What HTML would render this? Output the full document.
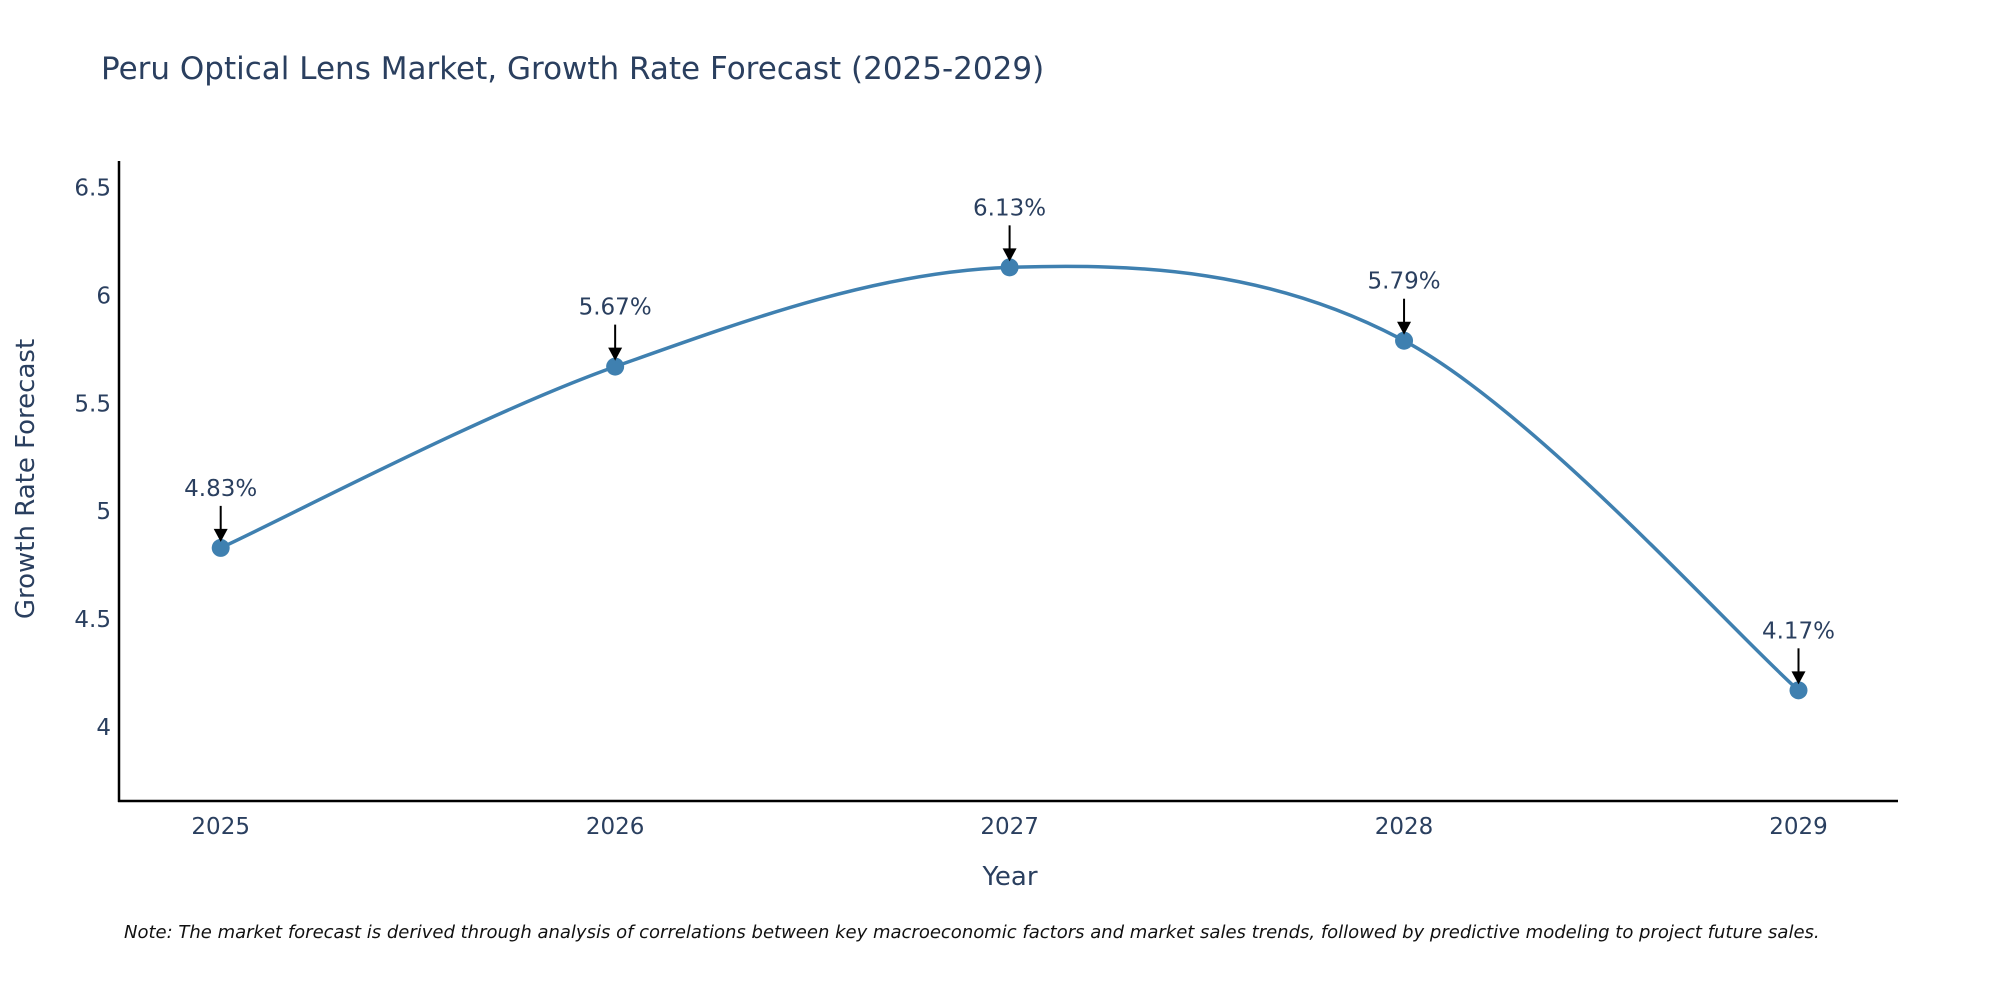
<!DOCTYPE html>
<html><head><meta charset="utf-8"><style>
html,body{margin:0;padding:0;background:#fff;}
svg{display:block;font-family:"DejaVu Sans","Liberation Sans",sans-serif;}
</style></head><body>
<svg id="chart" width="2000" height="1000" viewBox="0 0 2000 1000">
<text x="101" y="79" font-size="31" fill="#2a3f5f">Peru Optical Lens Market, Growth Rate Forecast (2025-2029)</text>
<g id="axes"></g>
<g id="series"></g>
<g id="annots"></g>
<text x="1010" y="885" font-size="26" fill="#2a3f5f" text-anchor="middle">Year</text>
<text transform="translate(34,479) rotate(-90)" font-size="26" fill="#2a3f5f" text-anchor="middle">Growth Rate Forecast</text>
<text x="124" y="938" font-size="18" font-style="italic" fill="#111">Note: The market forecast is derived through analysis of correlations between key macroeconomic factors and market sales trends, followed by predictive modeling to project future sales.</text>
</svg>
<script>
const years = [2025, 2026, 2027, 2028, 2029];
const growth = [4.83, 5.67, 6.13, 5.79, 4.17];
const yTicks = [4, 4.5, 5, 5.5, 6, 6.5];
const yTickLabels = ["4", "4.5", "5", "5.5", "6", "6.5"];

const NS = "http://www.w3.org/2000/svg";
function xs(v){ return 220.7 + (v - 2025) * 394.45; }
function ys(v){ return 727 - (v - 4) * 215.8; }
function mk(tag, attrs, parent){ const e = document.createElementNS(NS, tag); for (const k in attrs) e.setAttribute(k, attrs[k]); parent.appendChild(e); return e; }

const axes = document.getElementById('axes');
const yl = mk('line', {x1:119, y1:161, x2:119, y2:802, stroke:'#000', 'stroke-width':2.5}, axes);


const xl = mk('line', {x1:118, y1:801, x2:1898, y2:801, stroke:'#000', 'stroke-width':2.5}, axes);


yTicks.forEach((t, i) => {
  const tx = mk('text', {x:111, y:ys(t) + 8, 'font-size':23, fill:'#2a3f5f', 'text-anchor':'end'}, axes);
  tx.textContent = yTickLabels[i];
  
  
});
years.forEach(yr => {
  const tx = mk('text', {x:xs(yr), y:834, 'font-size':23, fill:'#2a3f5f', 'text-anchor':'middle'}, axes);
  tx.textContent = String(yr);
  
  
});

const pts = years.map((y, i) => [xs(y), ys(growth[i])]);
let d = `M${pts[0][0]},${pts[0][1]}`;
for (let i = 0; i < pts.length - 1; i++) {
  const p0 = pts[Math.max(0, i - 1)], p1 = pts[i], p2 = pts[i + 1], p3 = pts[Math.min(pts.length - 1, i + 2)];
  const t = 1/6;
  const c1 = [p1[0] + (p2[0] - p0[0]) * t, p1[1] + (p2[1] - p0[1]) * t];
  const c2 = [p2[0] - (p3[0] - p1[0]) * t, p2[1] - (p3[1] - p1[1]) * t];
  d += ` C${c1[0]},${c1[1]} ${c2[0]},${c2[1]} ${p2[0]},${p2[1]}`;
}
const series = document.getElementById('series');
const line = mk('path', {d:d, fill:'none', stroke:'#3f80b0', 'stroke-width':3.5}, series);


pts.forEach(p => {
  const c = mk('circle', {cx:p[0], cy:p[1], r:9, fill:'#3f80b0'}, series);
  
  
});

const an = document.getElementById('annots');
pts.forEach((p, i) => {
  const l = mk('line', {x1:p[0], y1:p[1] - 42, x2:p[0], y2:p[1] - 16, stroke:'#000', 'stroke-width':2}, an);
  
  
  const h = mk('polygon', {points:`${p[0]-7},${p[1]-19} ${p[0]+7},${p[1]-19} ${p[0]},${p[1]-6}`, fill:'#000'}, an);
  
  
  const t = mk('text', {x:p[0], y:p[1] - 52, 'font-size':23, fill:'#2a3f5f', 'text-anchor':'middle'}, an);
  t.textContent = growth[i].toFixed(2) + '%';
  
  
});
</script>
</body></html>
